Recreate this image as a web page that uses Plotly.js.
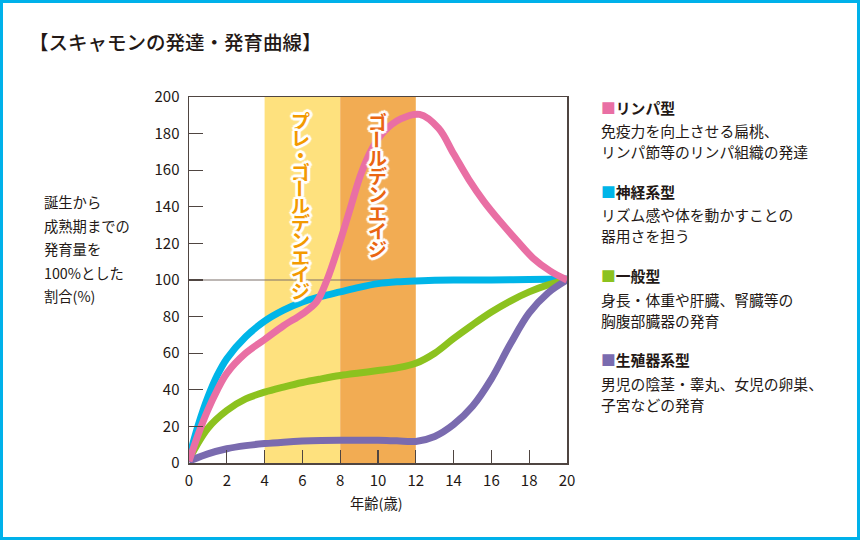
<!DOCTYPE html>
<html><head><meta charset="utf-8">
<script src="https://cdn.plot.ly/plotly-3.0.1.min.js"></script>
<style>html,body{margin:0;padding:0;background:#fff}#chart{width:860px;height:540px}</style>
</head><body><div id="chart"></div>
<script>
// ---- data ----
const ages = [0,1,2,3,4,5,6,7,8,9,10,11,12,13,14,15,16,17,18,19,20];
const lymphX = [0,0.5,1,1.5,2,3,4,5,6,6.75,7.3,7.9,8.5,9.1,9.7,10.3,11.2,12.2,13.2,14,14.8,15.6,16.5,17.35,18.2,19.1,20];
const lymphY = [1,16,29,40,49,60,67.5,75,81.5,88,100,118,138,158,172,181,188,190.5,183,169,155,143,131.5,121.5,112,105,100];
const neuralX = [0,0.5,1,1.5,2,3,4,5,6,7,8,9,10,11,12,14,16,18,20];
const neuralY = [3,21,36,48,57,69,77.5,83.5,88,91,93.5,96,98,99,99.5,100,100,100.3,100.5];
const generalY = [2,19,28.7,35,38.7,41.5,44,46,47.8,49.2,50.5,52,54.5,60,68,75.5,82.5,88.5,93.5,97.3,100];
const reproY = [1,5,7.8,9.5,10.6,11.4,12,12.3,12.4,12.4,12.4,12.1,11.8,14.5,21,31,46,65,82,93,100];
const bandRanges = [[4,8],[8,12]];
const bandLabels = ["プレ・ゴールデンエイジ","ゴールデンエイジ"];
const seriesNames = ["リンパ型","神経系型","一般型","生殖器系型"];
const seriesDesc = [
  ["免疫力を向上させる扁桃、","リンパ節等のリンパ組織の発達"],
  ["リズム感や体を動かすことの","器用さを担う"],
  ["身長・体重や肝臓、腎臓等の","胸腹部臓器の発育"],
  ["男児の陰茎・睾丸、女児の卵巣、","子宮などの発育"]
];
const yTitleLines = ["誕生から","成熟期までの","発育量を","100%とした","割合(%)"];
const chartTitle = "【スキャモンの発達・発育曲線】";
const xTitle = "年齢(歳)";

// ---- styles ----
const colors = {lymph:"#E96FA4", neural:"#00B5E8", general:"#8CC21F", repro:"#7A6BAF"};
const seriesColors = [colors.lymph, colors.neural, colors.general, colors.repro];
const bandColors = ["#FEE17E","#F2AC53"];
const bandTextColors = ["#F39A00","#EA6512"];
const dark = "#231815";
const axisCol = "#4f4541";
const FONT = "'Noto Sans CJK JP', 'Noto Sans', sans-serif";

const W=860,H=540,M={l:189,r:293,t:97,b:77};
const pw=W-M.l-M.r, ph=H-M.t-M.b;
const pxX = p => (p-M.l)/pw;
const pxY = p => (H-M.b-p)/ph;

const lw = 7;
const traces = [
  {x:neuralX, y:neuralY, name:seriesNames[1], color:colors.neural},
  {x:ages, y:generalY, name:seriesNames[2], color:colors.general},
  {x:ages, y:reproY, name:seriesNames[3], color:colors.repro},
  {x:lymphX, y:lymphY, name:seriesNames[0], color:colors.lymph}
].map(s => ({type:'scatter', mode:'lines', x:s.x, y:s.y, name:s.name,
  line:{color:s.color, width:lw, shape:'spline', smoothing:1}, hoverinfo:'skip', showlegend:false}));

const shapes = [];
bandRanges.forEach((r,i)=>shapes.push({type:'rect', xref:'x', yref:'y', x0:r[0], x1:r[1], y0:0, y1:200,
  fillcolor:bandColors[i], line:{width:0}, layer:'below'}));
shapes.push({type:'line', xref:'x', yref:'y', x0:0, x1:20, y0:100, y1:100, line:{color:'#7d716a', width:1.2}, layer:'below'});
// outer frame
shapes.push({type:'rect', xref:'paper', yref:'paper', x0:pxX(1.5), x1:pxX(858.5), y0:pxY(538.5), y1:pxY(1.5),
  line:{color:'#00B1EA', width:3}, fillcolor:'rgba(0,0,0,0)'});

const annotations = [];
annotations.push({xref:'paper', yref:'paper', x:pxX(27), y:pxY(42), xanchor:'left', yanchor:'middle', showarrow:false,
  text:chartTitle, font:{family:FONT, size:19.5, color:dark, weight:500}});
yTitleLines.forEach((t,i)=>annotations.push({xref:'paper', yref:'paper', x:pxX(42), y:pxY(201.5+23.6*i),
  xanchor:'left', yanchor:'middle', showarrow:false, text:t, font:{family:FONT, size:14.3, color:dark}}));
annotations.push({xref:'paper', yref:'paper', x:pxX(376), y:pxY(502), xanchor:'center', yanchor:'middle', showarrow:false,
  text:xTitle, font:{family:FONT, size:14.3, color:dark}});

// vertical band labels (one character per annotation, stacked top to bottom)
const outline = "2px 0 1px #fff,-2px 0 1px #fff,0 2px 1px #fff,0 -2px 1px #fff,2px 2px 1px #fff,-2px -2px 1px #fff,2px -2px 1px #fff,-2px 2px 1px #fff,3px 0 1px #fff,-3px 0 1px #fff,0 3px 1px #fff,0 -3px 1px #fff";
const colCfg = [{cx:300.5, y0:121, step:16.9}, {cx:377.5, y0:121.5, step:18.1}];
bandLabels.forEach((lab,i)=>{
  [...lab].forEach((ch,k)=>{
    annotations.push({xref:'paper', yref:'paper', x:pxX(colCfg[i].cx), y:pxY(colCfg[i].y0+colCfg[i].step*k),
      xanchor:'center', yanchor:'middle', showarrow:false, text:ch, textangle:(ch==='ー'?90:0),
      font:{family:FONT, size:19, color:bandTextColors[i], weight:'bold', shadow:outline}});
  });
});

// legend blocks
const blockTop = [107, 191, 275.5, 359.5];
seriesNames.forEach((nm,i)=>{
  annotations.push({xref:'paper', yref:'paper', x:pxX(599), y:pxY(blockTop[i]), xanchor:'left', yanchor:'middle', showarrow:false,
    text:'<span style="color:'+seriesColors[i]+'">■</span><b>'+nm+'</b>', font:{family:FONT, size:14.8, color:dark}});
  seriesDesc[i].forEach((d,j)=>annotations.push({xref:'paper', yref:'paper', x:pxX(599), y:pxY(blockTop[i]+23.5+21*j),
    xanchor:'left', yanchor:'middle', showarrow:false, text:d, font:{family:FONT, size:14.8, color:dark}}));
});

const axisCommon = {showline:true, mirror:true, linecolor:axisCol, linewidth:1.5, ticks:'inside', tickcolor:axisCol,
  tickwidth:1.2, showgrid:false, zeroline:false, fixedrange:true,
  tickfont:{family:FONT, size:15, color:dark}};
const layout = {
  width:W, height:H, margin:M, paper_bgcolor:'#fff', plot_bgcolor:'#fff', showlegend:false,
  xaxis:Object.assign({}, axisCommon, {range:[0,20], tickmode:'linear', tick0:0, dtick:2, ticklen:13, ticklabelstandoff:3}),
  yaxis:Object.assign({}, axisCommon, {range:[0,200], tickmode:'linear', tick0:0, dtick:20, ticklen:14, ticklabelstandoff:5}),
  shapes:shapes, annotations:annotations
};
Plotly.newPlot('chart', traces, layout, {displayModeBar:false, staticPlot:true});
</script></body></html>
